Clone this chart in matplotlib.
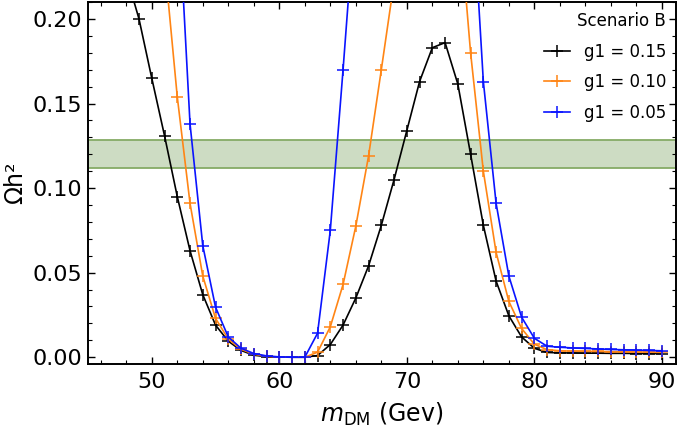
import numpy as np
import matplotlib
matplotlib.use("Agg")
import matplotlib.pyplot as plt
from matplotlib.ticker import MultipleLocator, FormatStrFormatter

# relic density vs DM mass, scenario B
m_015 = np.arange(48, 91)
oh2_015 = [0.226, 0.200, 0.165, 0.131, 0.095, 0.063, 0.037, 0.019, 0.0095, 0.004,
           0.0012, 0.0003, 0.0001, 0.0, 0.0, 0.001, 0.0075, 0.019, 0.035, 0.054,
           0.078, 0.105, 0.134, 0.163, 0.183, 0.186, 0.1615, 0.120, 0.078, 0.045,
           0.0245, 0.012, 0.0053, 0.0028, 0.0026, 0.0025, 0.0024, 0.0024, 0.0023,
           0.0023, 0.0022, 0.0022, 0.0021]

m_010 = np.arange(51, 91)
oh2_010 = [0.234, 0.154, 0.091, 0.048, 0.023, 0.0107, 0.0047, 0.0018, 0.0005, 0.0001,
           0.0, 0.0, 0.003, 0.018, 0.043, 0.0775, 0.119, 0.170, 0.222, 0.30,
           0.37, 0.40, 0.38, 0.27, 0.180, 0.110, 0.062, 0.033, 0.017, 0.0077,
           0.0045, 0.0038, 0.0036, 0.0035, 0.0034, 0.0033, 0.0032, 0.0031, 0.0030,
           0.0029]

m_005 = np.arange(52, 91)
oh2_005 = [0.28, 0.138, 0.066, 0.0296, 0.012, 0.0053, 0.0022, 0.0008, 0.0002, 0.0,
           0.0, 0.0142, 0.075, 0.170, 0.27, 0.40, 0.55, 0.65, 0.70, 0.70,
           0.62, 0.48, 0.40, 0.29, 0.163, 0.091, 0.048, 0.0237, 0.0112, 0.0065,
           0.0059, 0.0055, 0.0052, 0.0049, 0.0046, 0.0044, 0.0042, 0.0040, 0.0038]

planck_lo, planck_hi = 0.1118, 0.1284

plt.rcParams['font.family'] = ['DejaVu Sans']

fig = plt.figure(figsize=(6.8, 4.3), dpi=100)
ax = fig.add_axes([0.1294, 0.1535, 0.8646, 0.8418])

ax.axhspan(planck_lo, planck_hi, facecolor='#cddcc3', edgecolor='#86ab66', lw=1.3, zorder=1)

kw = dict(marker='+', ms=8, mew=1.1, lw=1.2, zorder=3)
ax.plot(m_015, oh2_015, color='black', label='g1 = 0.15', **kw)
ax.plot(m_010, oh2_010, color='#ff8515', label='g1 = 0.10', **kw)
ax.plot(m_005, oh2_005, color='#0a14ff', label='g1 = 0.05', **kw)

ax.set_xlim(45, 91.1)
ax.set_ylim(-0.004, 0.21)
ax.xaxis.set_major_locator(MultipleLocator(10))
ax.xaxis.set_minor_locator(MultipleLocator(2))
ax.yaxis.set_major_locator(MultipleLocator(0.05))
ax.yaxis.set_minor_locator(MultipleLocator(0.01))
ax.yaxis.set_major_formatter(FormatStrFormatter('%.2f'))
ax.tick_params(which='both', direction='in', top=True, right=True, labelsize=16)
ax.tick_params(axis='x', pad=6)
ax.tick_params(axis='y', pad=4)
ax.tick_params(which='major', length=5, width=1)
ax.tick_params(which='minor', length=3, width=0.8)
for sp in ax.spines.values():
    sp.set_linewidth(1.4)

ax.set_xlabel(r'$m_{\rm DM}$ (Gev)', fontsize=17, labelpad=6)
ax.set_ylabel('Ωh²', fontsize=17, labelpad=4)

leg = ax.legend(loc='upper right', frameon=False, title='Scenario B',
                prop={'size': 12}, handlelength=1.6,
                borderaxespad=0.2, labelspacing=0.75)
leg.get_title().set_fontsize(12)
leg._legend_box.align = 'right'

fig.savefig('out.png', dpi=100)
